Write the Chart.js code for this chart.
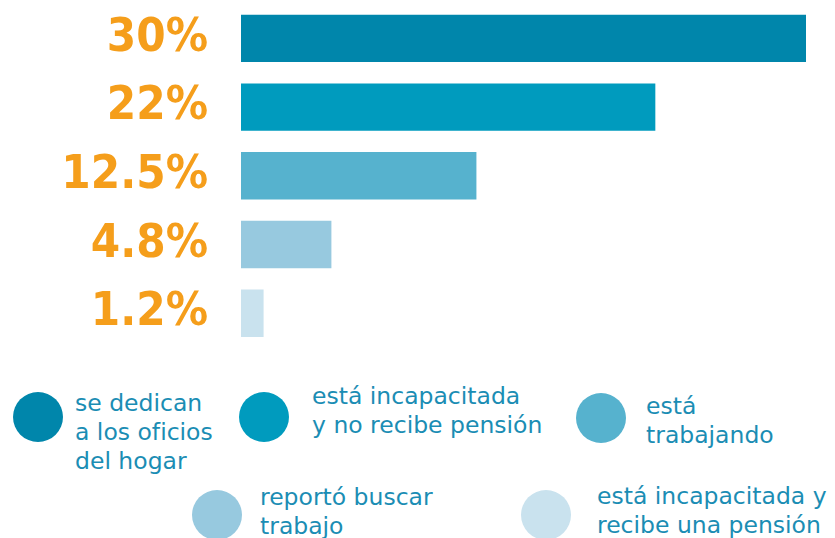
<!DOCTYPE html>
<html lang="es">
<head>
<meta charset="utf-8">
<title>Situación</title>
<script src="https://cdn.jsdelivr.net/npm/chart.js@4.4.1/dist/chart.umd.min.js"></script>
<style>
  html, body { margin: 0; padding: 0; background: #fff; }
  #wrap { position: relative; width: 835px; height: 538px; overflow: hidden; }
  #chartBox { position: absolute; left: 0; top: 0; width: 835px; height: 350px; }
  .dot { position: absolute; width: 50px; height: 50px; border-radius: 50%; }
  .txt {
    position: absolute;
    font-family: "DejaVu Sans", sans-serif;
    font-size: 23.5px;
    line-height: 29px;
    color: #1b8db4;
    white-space: nowrap;
  }
</style>
</head>
<body>
<div id="wrap">
  <div id="chartBox"><canvas id="barChart"></canvas></div>
  <div id="legend"></div>
</div>
<script>
// ========== DATA ==========
const categories = [
  "se dedican a los oficios del hogar",
  "está incapacitada y no recibe pensión",
  "está trabajando",
  "reportó buscar trabajo",
  "está incapacitada y recibe una pensión",
];
const values = [30, 22, 12.5, 4.8, 1.2];
const tickLabels = ["30%", "22%", "12.5%", "4.8%", "1.2%"];
const barColors = ["#0086ab", "#009bbe", "#56b2ce", "#97c9df", "#c9e2ee"];
const legendLines = [
  ["se dedican", "a los oficios", "del hogar"],
  ["está incapacitada", "y no recibe pensión"],
  ["está", "trabajando"],
  ["reportó buscar", "trabajo"],
  ["está incapacitada y", "recibe una pensión"],
];

// legend layout: circle centre and text box origin
const legendPos = [
  { cx: 38, cy: 417, tx: 75, ty: 389 },
  { cx: 264, cy: 417, tx: 312, ty: 382 },
  { cx: 601, cy: 418, tx: 646, ty: 392 },
  { cx: 217, cy: 515, tx: 260, ty: 483 },
  { cx: 546, cy: 515, tx: 597, ty: 482 },
];

// ========== LEGEND ==========
function buildLegend() {
  const legend = document.getElementById("legend");
  categories.forEach((c, i) => {
    const p = legendPos[i];
    const dot = document.createElement("div");
    dot.className = "dot";
    dot.style.left = p.cx - 25 + "px";
    dot.style.top = p.cy - 25 + "px";
    dot.style.background = barColors[i];
    legend.appendChild(dot);

    const txt = document.createElement("div");
    txt.className = "txt";
    txt.style.left = p.tx + "px";
    txt.style.top = p.ty + "px";
    txt.innerHTML = legendLines[i].join("<br>");
    legend.appendChild(txt);
  });
}

// ========== CHART ==========
function renderChart() {
  new Chart(document.getElementById("barChart"), {
    type: "bar",
    data: {
      labels: categories,
      datasets: [
        {
          data: values,
          backgroundColor: barColors,
          borderWidth: 0,
          barPercentage: 0.69,
          categoryPercentage: 1,
        },
      ],
    },
    options: {
      indexAxis: "y",
      responsive: true,
      maintainAspectRatio: false,
      animation: false,
      layout: { padding: { top: 4, bottom: 2, left: 0, right: 29 } },
      plugins: { legend: { display: false }, tooltip: { enabled: false } },
      scales: {
        x: { display: false, min: 0, max: 30 },
        y: {
          // transparent tick marks give the gap between labels and bars
          grid: {
            display: true,
            drawOnChartArea: false,
            drawTicks: true,
            tickLength: 33,
            color: "rgba(0,0,0,0)",
          },
          border: { display: false },
          afterFit: (scale) => { scale.width = 241; },
          ticks: {
            padding: 0,
            autoSkip: false,
            color: "#f59e1b",
            font: {
              family: '"DejaVu Sans Condensed", "DejaVu Sans", sans-serif',
              weight: "bold",
              size: 47,
              lineHeight: 0.1,
            },
            callback: (v, i) => tickLabels[i],
          },
        },
      },
    },
  });
}

buildLegend();
renderChart();
</script>
</body>
</html>
